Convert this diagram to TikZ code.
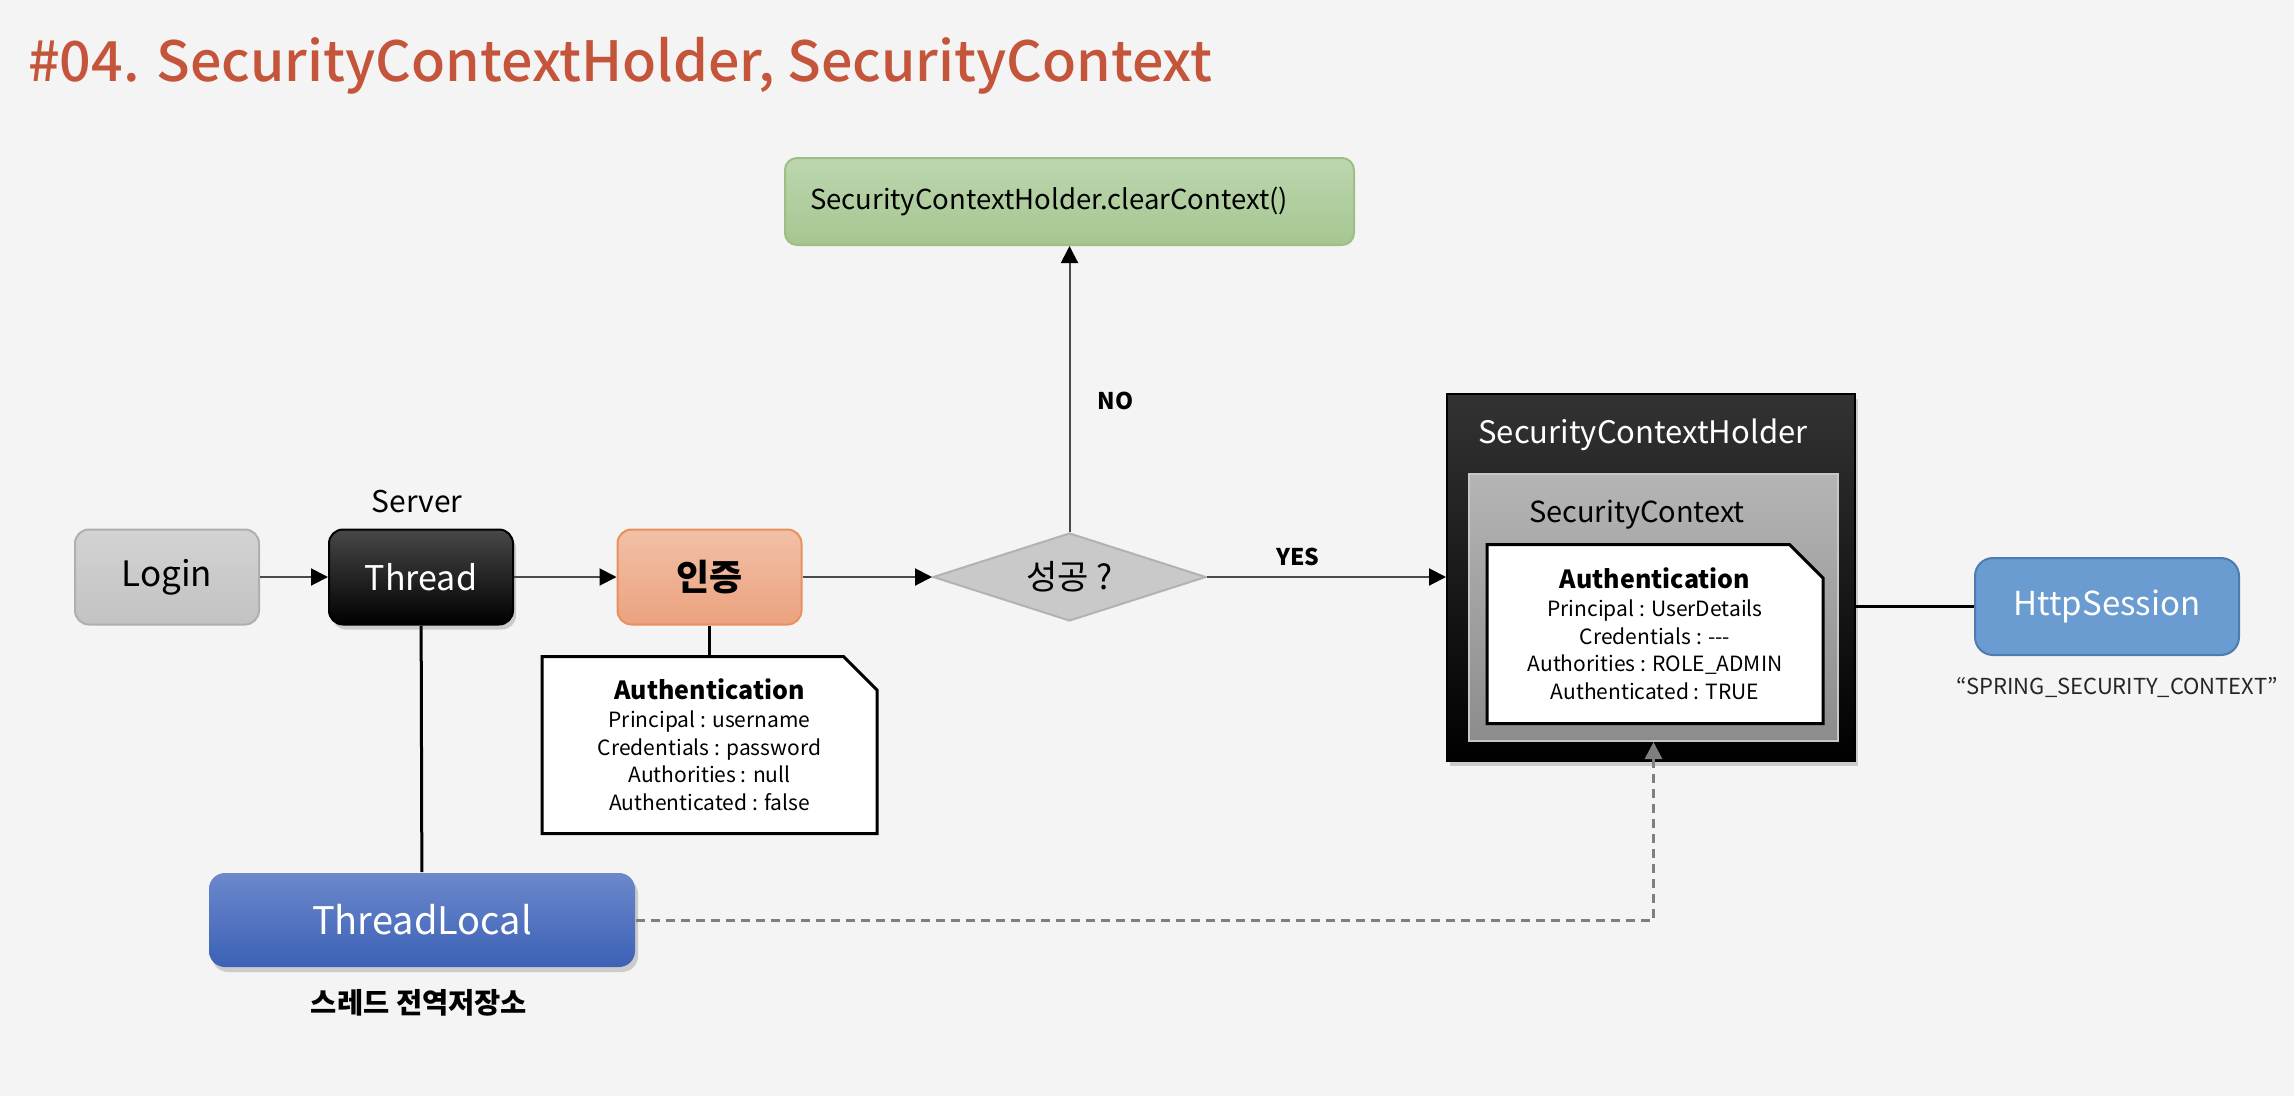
\documentclass[tikz,border=0pt]{standalone}
\usepackage{fontspec}
\setmainfont{Noto Sans CJK KR}
\newfontfamily\titlefont{Noto Sans CJK KR Medium}
\usetikzlibrary{arrows.meta,shapes.geometric,shapes.misc,shadows}

\definecolor{bg}{HTML}{F4F4F4}
\definecolor{titlered}{HTML}{C4553A}
\definecolor{flowgray}{HTML}{4A4A4A}
\definecolor{dashgray}{HTML}{7F7F7F}
\definecolor{logintop}{HTML}{D3D3D3}
\definecolor{loginbot}{HTML}{C2C2C2}
\definecolor{authtop}{HTML}{F2C0A6}
\definecolor{authbot}{HTML}{EBA27F}
\definecolor{authline}{HTML}{E8915F}
\definecolor{greentop}{HTML}{BDD6AF}
\definecolor{greenbot}{HTML}{A5C690}
\definecolor{greenline}{HTML}{9CBF83}
\definecolor{ctxtop}{HTML}{B5B5B5}
\definecolor{ctxbot}{HTML}{8C8C8C}
\definecolor{sessionblue}{HTML}{6A9BD1}
\definecolor{sessionline}{HTML}{4D7CB0}
\definecolor{localtop}{HTML}{6C88CC}
\definecolor{localbot}{HTML}{3B61B6}

\begin{document}
\begin{tikzpicture}[x=1pt,y=-1pt,->,>={Triangle[length=17pt,width=17pt,black]},
                    line width=2pt,
                    box node/.style={rounded corners=14pt,minimum width=184pt,minimum height=95pt,
                                     inner sep=0pt,font=\fontsize{35}{40}\selectfont},
                    note node/.style={chamfered rectangle,chamfered rectangle corners=north east,
                                      chamfered rectangle xsep=30pt,draw=black,line width=3pt,fill=white,
                                      minimum width=335pt,minimum height=177pt,inner sep=0pt,align=center},
                    shadowed/.style={drop shadow={shadow xshift=3pt,shadow yshift=-5pt,opacity=.35}},
                    link line/.style={-,draw=black,line width=3pt}]

\fill[bg,-] (0,0) rectangle (2294,1096);

% title
\node[anchor=base west,text=titlered,font=\titlefont\fontsize{55.5}{64}\selectfont] (0) at (24,81)
  {\#04. SecurityContextHolder, SecurityContext};

% login flow
\node[box node,top color=logintop,bottom color=loginbot,draw=loginbot!90!black] (1) at (167,577) {Login};
\node[box node,top color=black!72,bottom color=black,draw=black,text=white,font=\fontsize{34}{40}\selectfont,
      shadowed] (2) at (421,577) {Thread};
\node[font=\fontsize{30}{34}\selectfont] (2l) at (417,501) {Server};
\node[box node,top color=authtop,bottom color=authbot,draw=authline,font=\bfseries\fontsize{36}{40}\selectfont] (3) at (709.5,577) {인증};
\node[diamond,shape aspect=3,minimum width=273pt,minimum height=88pt,inner sep=0pt,
      fill=black!21,draw=black!30,font=\fontsize{34}{38}\selectfont] (4) at (1069.5,577) {성공 ?};
\node[rounded corners=12pt,top color=greentop,bottom color=greenbot,draw=greenline,
      minimum width=569pt,minimum height=87pt,text width=519pt,inner xsep=25pt,align=left,
      font=\fontsize{27.5}{32}\selectfont] (5) at (1069.5,201.5) {SecurityContextHolder.clearContext()};

% holder
\node[minimum width=408pt,minimum height=367pt,draw=black,top color=black!80,middle color=black!96,
      bottom color=black,shadowed] (6) at (1651,577) {};
\node[anchor=west,text=white,font=\fontsize{31}{36}\selectfont] (6t) at (1474,435) {SecurityContextHolder};
\node[minimum width=369pt,minimum height=267pt,draw=black!22,top color=ctxtop,bottom color=ctxbot] (7) at (1653.5,607.5) {};
\node[font=\fontsize{29}{34}\selectfont] (7t) at (1637,515) {SecurityContext};
\node[note node,minimum width=336pt,minimum height=179pt,font=\fontsize{21}{27.7}\selectfont] (8) at (1655,634)
  {{\bfseries\fontsize{25}{32}\selectfont Authentication}\\
   Principal : UserDetails\\ Credentials : -{}-{}-\\ Authorities : ROLE\_ADMIN\\ Authenticated : TRUE};

\node[rounded corners=18pt,fill=sessionblue,draw=sessionline,minimum width=264pt,minimum height=97pt,
      text=white,font=\fontsize{33}{38}\selectfont] (9) at (2107,606.5) {HttpSession};
\node[font=\fontsize{22}{26}\selectfont,text=black!85] (9l) at (2117,687) {“SPRING\_SECURITY\_CONTEXT”};

% thread local
\node[rounded corners=16pt,top color=localtop,bottom color=localbot,minimum width=426pt,minimum height=94pt,
      text=white,font=\fontsize{38}{42}\selectfont,shadowed] (10) at (422,920) {ThreadLocal};
\node[font=\bfseries\fontsize{28.5}{32}\selectfont] (10l) at (419,1003) {스레드 전역저장소};

\node[note node,font=\fontsize{21}{27.7}\selectfont] (11) at (709.5,745)
  {{\bfseries\fontsize{25}{32}\selectfont Authentication}\\
   Principal : username\\ Credentials : password\\ Authorities : null\\ Authenticated : false};

\path[draw=flowgray,every node/.style={font=\bfseries\fontsize{23}{28}\selectfont}]
(1) edge (2)
(2) edge (3)
(3) edge (4)
(4) edge node[pos=0.38,above=7pt] (yes) {YES} (6)
(4) edge node[pos=0.46,right=24pt] (no) {NO} (5);

\draw[link line] (2) -- (10);
\draw[link line] (3) -- (11);
\draw[link line] (6.east |- 9.west) -- (9.west);
\draw[-{Triangle[length=17pt,width=17pt]},draw=dashgray,line width=3pt,dash pattern=on 9pt off 6pt] (10) -| (7);

\end{tikzpicture}
\end{document}
